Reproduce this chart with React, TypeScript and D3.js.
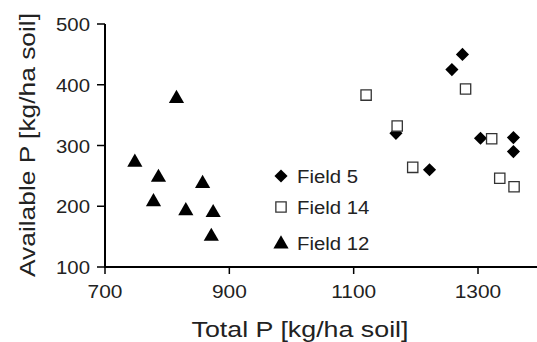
import React from 'react';
import * as d3 from 'd3';

// Field 5 (diamonds)
const field5X = [1275, 1258, 1168, 1304, 1357, 1357, 1222];
const field5Y = [450, 425, 320, 312, 313, 290, 260];
// Field 14 (open squares)
const field14X = [1120, 1170, 1280, 1195, 1322, 1335, 1358];
const field14Y = [383, 332, 393, 264, 311, 246, 232];
// Field 12 (triangles)
const field12X = [748, 815, 786, 778, 857, 830, 874, 871];
const field12Y = [274, 379, 249, 209, 239, 194, 191, 152];

const xTicks = [700, 900, 1100, 1300];
const yTicks = [100, 200, 300, 400, 500];
const legendLabels = ['Field 5', 'Field 14', 'Field 12'];

const W = 537;
const H = 342;
const FONT = 'Liberation Sans, Arial, sans-serif';
const SX = 1.1; // text in the picture is slightly wide

export default function App() {
  const x = d3.scaleLinear().domain([700, 1300]).range([105, 478]);
  const y = d3.scaleLinear().domain([100, 500]).range([267, 24]);

  const diamond = d3.symbol().type(d3.symbolDiamond2).size(110)();
  const square = d3.symbol().type(d3.symbolSquare2).size(135)();
  const triangle = d3.symbol().type(d3.symbolTriangle).size(100)();

  const series = [
    { xs: field5X, ys: field5Y, path: diamond, fill: '#000', stroke: 'none', dy: 0 },
    { xs: field14X, ys: field14Y, path: square, fill: '#fff', stroke: '#333', dy: 0 },
    { xs: field12X, ys: field12Y, path: triangle, fill: '#000', stroke: 'none', dy: 1 },
  ];

  const legendY = [176, 207, 243];

  return (
    <svg width={W} height={H} style={{ position: 'absolute', left: 0, top: 0, background: '#fff' }} fontFamily={FONT}>
      {/* axes */}
      <line x1={x(700)} x2={W + 5} y1={y(100)} y2={y(100)} stroke="#000" strokeWidth={2} />
      <line x1={x(700)} x2={x(700)} y1={y(500)} y2={y(100) + 1} stroke="#000" strokeWidth={2} />
      {xTicks.map(t => (
        <g key={'x' + t}>
          <line x1={x(t)} x2={x(t)} y1={y(100)} y2={y(100) + 7} stroke="#000" strokeWidth={1.5} />
          <text transform={`translate(${x(t)}, ${y(100) + 31}) scale(${SX},1)`} textAnchor="middle" fontSize={19} fill="#222">{t}</text>
        </g>
      ))}
      {yTicks.map(t => (
        <g key={'y' + t}>
          <line x1={x(700) - 8} x2={x(700)} y1={y(t)} y2={y(t)} stroke="#000" strokeWidth={1.5} />
          <text transform={`translate(${x(700) - 15}, ${y(t) + 7}) scale(${SX},1)`} textAnchor="end" fontSize={18.5} fill="#222">{t}</text>
        </g>
      ))}
      <text x={300} y={336.5} textAnchor="middle" fontSize={22.5} textLength={217} lengthAdjust="spacingAndGlyphs" fill="#222">
        Total P [kg/ha soil]
      </text>
      <text transform="translate(35, 145) rotate(-90)" textAnchor="middle" fontSize={22} textLength={264} lengthAdjust="spacingAndGlyphs" fill="#222">
        Available P [kg/ha soil]
      </text>

      {/* points */}
      {series.map((s, si) =>
        s.xs.map((v, i) => (
          <path
            key={si + '-' + i}
            d={s.path}
            transform={`translate(${x(v)}, ${y(s.ys[i]) + s.dy})`}
            fill={s.fill}
            stroke={s.stroke}
            strokeWidth={1.3}
          />
        ))
      )}

      {/* legend */}
      {series.map((s, i) => (
        <g key={'lg' + i}>
          <path d={s.path} transform={`translate(281, ${legendY[i] + s.dy})`} fill={s.fill} stroke={s.stroke} strokeWidth={1.3} />
          <text transform={`translate(297, ${legendY[i] + 6.5}) scale(${SX},1)`} fontSize={18.5} fill="#222">{legendLabels[i]}</text>
        </g>
      ))}
    </svg>
  );
}
